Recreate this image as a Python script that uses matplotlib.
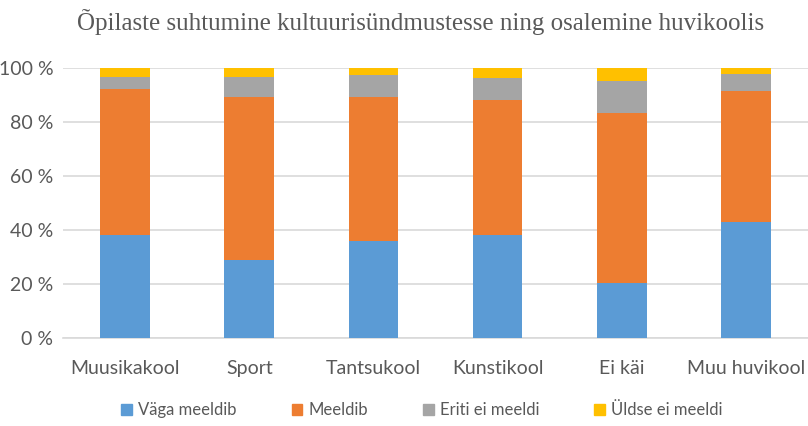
import matplotlib
matplotlib.use('Agg')
import matplotlib.pyplot as plt
from matplotlib.patches import Patch
import numpy as np

###### DATA ######
categories = ['Muusikakool', 'Sport', 'Tantsukool', 'Kunstikool', 'Ei käi', 'Muu huvikool']
vaga_meeldib = [38.3, 29.0, 36.0, 38.3, 20.4, 43.2]
meeldib = [53.9, 60.5, 53.3, 50.0, 62.9, 48.4]
eriti_ei = [4.5, 7.2, 8.0, 8.0, 12.0, 6.3]
uldse_ei = [3.3, 3.3, 2.7, 3.7, 4.7, 2.1]
series_names = ['Väga meeldib', 'Meeldib', 'Eriti ei meeldi', 'Üldse ei meeldi']
y_ticks = [0, 20, 40, 60, 80, 100]

colors = ['#5b9bd5', '#ed7d31', '#a5a5a5', '#ffc000']
txt_col = '#595959'
sans = ['Lato', 'DejaVu Sans']

###### PLOT ######
fig = plt.figure(figsize=(8.08, 4.26), dpi=100)
ax = fig.add_axes([0.078, 0.206, 0.922, 0.634])

x = np.arange(len(categories))
bottom = np.zeros(len(categories))
for vals, col in zip([vaga_meeldib, meeldib, eriti_ei, uldse_ei], colors):
    ax.bar(x, vals, 0.4, bottom=bottom, color=col, zorder=3)
    bottom += np.array(vals)

ax.set_xlim(-0.5, len(categories) - 0.5)
ax.set_ylim(0, 100)
ax.set_yticks(y_ticks)
ax.set_yticklabels([f'{v} %' for v in y_ticks], family=sans, fontsize=14, color=txt_col)
ax.set_xticks(x)
ax.set_xticklabels(categories, family=sans, fontsize=14, color=txt_col)
ax.tick_params(length=0, axis='y', pad=7)
ax.tick_params(length=0, axis='x', pad=16)
ax.grid(axis='y', color='#d9d9d9', lw=1.2, zorder=0)
for s in ['top', 'right', 'left']:
    ax.spines[s].set_visible(False)
ax.spines['bottom'].set_color('#d9d9d9')
ax.spines['bottom'].set_linewidth(1.2)

fig.text(0.521, 0.948, 'Õpilaste suhtumine kultuurisündmustesse ning osalemine huvikoolis',
         ha='center', va='center', family='Liberation Serif', fontsize=18, color=txt_col)

handles = [Patch(color=c) for c in colors]
fig.legend(handles, series_names, loc='center', bbox_to_anchor=(0.522, 0.037), ncol=4,
           frameon=False, prop={'family': sans, 'size': 12}, handlelength=0.65,
           handleheight=0.65, handletextpad=0.35, columnspacing=3.3, labelcolor=txt_col)

fig.savefig('out.png', dpi=100)
